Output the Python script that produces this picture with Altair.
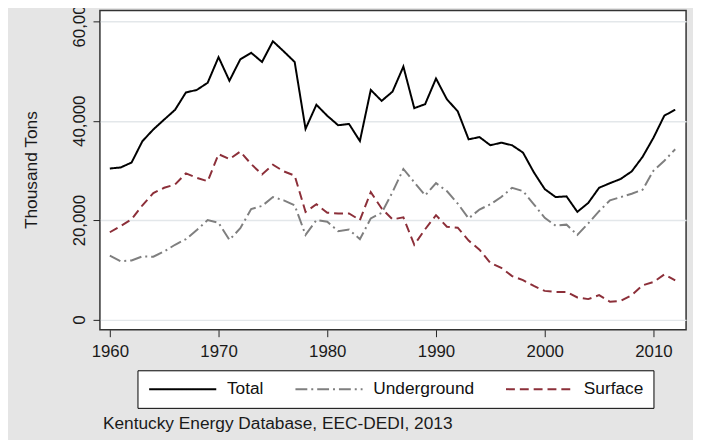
import altair as alt
import pandas as pd

years = list(range(1960, 2013))

total = [30400, 30600, 31600, 35900, 38250, 40240, 42200, 45700, 46200, 47650,
         52800, 48050, 52360, 53680, 51830, 56000, 53950, 51830, 38370, 43220,
         41000, 39100, 39360, 35920, 46200, 44000, 45860, 50900, 42540, 43340,
         48500, 44330, 41890, 36260, 36720, 35070, 35590, 35070, 33600, 29620,
         26250, 24650, 24790, 21670, 23460, 26520, 27440, 28310, 29820, 32740,
         36580, 41030, 42220]

underground = [12860, 11730, 11900, 12720, 12650, 13720, 15050, 16180, 18030, 20020,
               19480, 16040, 18370, 22250, 22860, 24650, 23990, 23000, 17040, 20020,
               19680, 17800, 18100, 16180, 20360, 21470, 25650, 30300, 27630, 24990,
               27440, 25850, 23340, 20360, 22150, 23200, 24650, 26520, 25850, 23200,
               20460, 18900, 19100, 17040, 19350, 21810, 23990, 24650, 25320, 26120,
               29960, 31950, 34270]

surface = [17570, 18830, 20160, 23000, 25450, 26520, 27180, 29420, 28500, 27830,
           33280, 32280, 33800, 31290, 29200, 31150, 29820, 28970, 21670, 23200,
           21500, 21350, 21350, 20020, 25650, 22350, 20160, 20560, 15050, 18170,
           21010, 18690, 18490, 15900, 14060, 11410, 10420, 8750, 7950, 6760,
           5770, 5570, 5570, 4450, 4120, 4910, 3580, 3780, 4910, 6900,
           7550, 9090, 7890]

series_names = ["Total", "Underground", "Surface"]
series_colors = ["#000000", "#7f7f7f", "#8c2f39"]
series_dashes = [[1, 0], [12, 4, 2, 4], [9, 5]]

x_ticks = [1960, 1970, 1980, 1990, 2000, 2010]
y_ticks = [0, 20000, 40000, 60000]
y_title = "Thousand Tons"
note_text = "Kentucky Energy Database, EEC-DEDI, 2013"

df = pd.DataFrame({
    "year": years * 3,
    "value": total + underground + surface,
    "series": ["Total"] * len(years) + ["Underground"] * len(years) + ["Surface"] * len(years),
})

FONT = "Liberation Sans"

legend = alt.Legend(
    title=None, orient="none", legendX=38, legendY=364, direction="horizontal",
    symbolType="M-6,0H6", symbolSize=128, symbolStrokeWidth=2, symbolOffset=27,
    labelFontSize=17.5, labelFont=FONT, labelColor="#111111", labelOffset=36,
    columnPadding=27, padding=10, fillColor="white", strokeColor="#000000",
    cornerRadius=0,
)

lines = alt.Chart(df).mark_line(strokeWidth=2, clip=True).encode(
    x=alt.X("year:Q",
            scale=alt.Scale(domain=[1959.09, 2013.0], nice=False, zero=False),
            axis=alt.Axis(values=x_ticks, format="d", title=None, tickSize=7,
                          tickColor="#222222", tickWidth=1, labelFontSize=17,
                          labelFont=FONT, labelColor="#1a1a1a", labelPadding=7,
                          grid=False, domain=False, labelFlush=False)),
    y=alt.Y("value:Q",
            scale=alt.Scale(domain=[-2048, 62185], nice=False, zero=False),
            axis=alt.Axis(values=y_ticks, format=",d", title=y_title,
                          titleX=-69, titleY=161, titleAngle=270, titleAlign="center",
                          titleBaseline="middle", titleFontSize=17.5,
                          titleFontWeight="normal", titleFont=FONT, titleColor="#1a1a1a",
                          labelAngle=270, labelAlign="center", labelBaseline="alphabetic",
                          labelPadding=9, labelFontSize=17, labelFont=FONT,
                          labelColor="#1a1a1a", tickSize=7, tickColor="#222222",
                          grid=True, gridColor="#e3e7ea", gridWidth=1.5,
                          domain=False, labelFlush=False)),
    color=alt.Color("series:N",
                    scale=alt.Scale(domain=series_names, range=series_colors),
                    legend=legend),
    strokeDash=alt.StrokeDash("series:N",
                              scale=alt.Scale(domain=series_names, range=series_dashes),
                              legend=legend),
)

note = alt.Chart(pd.DataFrame({"note": [note_text]})).mark_text(
    align="left", baseline="alphabetic", fontSize=17.5, font=FONT, color="#1a1a1a"
).encode(text="note:N", x=alt.value(3), y=alt.value(423))

chart = alt.layer(lines, note).properties(
    width=593, height=323,
    autosize=alt.AutoSizeParams(type="none"),
    padding={"left": 93, "top": 0, "right": 7, "bottom": 109},
    background="#e5e5e5",
).configure_view(fill="white", stroke="#333333", strokeWidth=1.5)

chart.save("out.html", embed_options={"renderer": "svg", "actions": False})
